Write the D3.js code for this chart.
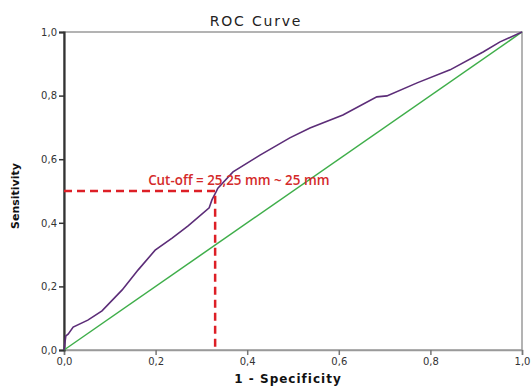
<!DOCTYPE html>
<html>
<head>
<meta charset="utf-8">
<script src="https://cdn.jsdelivr.net/npm/d3@7"></script>
<style>
  body { margin: 0; background: #fff; }
  text { font-family: "DejaVu Sans", Arial, sans-serif; }
</style>
</head>
<body>
<div id="chart"></div>
<script>
// ROC curve, 1 - specificity vs sensitivity
const fpr = [0, 0.004, 0.009, 0.02, 0.052, 0.083, 0.127, 0.162, 0.199, 0.236, 0.271, 0.317, 0.323, 0.332,
  0.336, 0.369, 0.428, 0.493, 0.537, 0.609, 0.683, 0.705, 0.771, 0.843, 0.915, 0.952, 1];
const tpr = [0, 0.044, 0.05, 0.072, 0.094, 0.123, 0.189, 0.252, 0.314, 0.352, 0.39, 0.447, 0.472, 0.497,
  0.509, 0.56, 0.613, 0.667, 0.698, 0.739, 0.796, 0.799, 0.84, 0.881, 0.937, 0.969, 1];
const refLine = [0, 1];
const tickValues = [0, 0.2, 0.4, 0.6, 0.8, 1.0];
const cutoff = { x: 0.33, y: 0.5, label: "Cut-off = 25,25 mm ~ 25 mm" };

const width = 531, height = 387;
const margin = { top: 32, right: 9, bottom: 37, left: 64 };
const w = width - margin.left - margin.right;
const h = height - margin.top - margin.bottom;

const svg = d3.select('#chart').append('svg')
  .attr('width', width)
  .attr('height', height);

const chart = svg.append('g')
  .attr('transform', `translate(${margin.left},${margin.top})`);

const xScale = d3.scaleLinear().domain([0, 1]).range([0, w]);
const yScale = d3.scaleLinear().domain([0, 1]).range([h, 0]);
const fmt = d => d3.format('.1f')(d).replace('.', ',');

// frame
chart.append('rect')
  .attr('width', w).attr('height', h)
  .attr('fill', 'none')
  .attr('stroke', '#9a9a9a')
  .attr('stroke-width', 1.5);

// axes
const xAxis = chart.append('g')
  .attr('transform', `translate(0,${h})`)
  .call(d3.axisBottom(xScale).tickValues(tickValues).tickFormat(fmt).tickSize(5).tickPadding(3));
xAxis.select('.domain').attr('stroke', '#9a9a9a').attr('stroke-width', 1.5);
xAxis.selectAll('.tick line').attr('stroke', '#777').attr('stroke-width', 1.5);

const yAxis = chart.append('g')
  .call(d3.axisLeft(yScale).tickValues(tickValues).tickFormat(fmt).tickSize(5).tickPadding(2));
yAxis.select('.domain').attr('stroke', '#333').attr('stroke-width', 2.2);
yAxis.selectAll('.tick line').attr('stroke', '#333').attr('stroke-width', 1.5);

svg.selectAll('.tick text')
  .attr('fill', '#333')
  .style('font-size', '10px')
  .style('font-family', '"DejaVu Sans", sans-serif');

// reference diagonal
chart.append('line')
  .attr('x1', xScale(refLine[0])).attr('y1', yScale(refLine[0]))
  .attr('x2', xScale(refLine[1])).attr('y2', yScale(refLine[1]))
  .attr('stroke', '#3fae4a')
  .attr('stroke-width', 1.5);

// ROC curve
const line = d3.line()
  .x((d, i) => xScale(fpr[i]))
  .y((d, i) => yScale(tpr[i]));

chart.append('path')
  .datum(fpr)
  .attr('d', line)
  .attr('fill', 'none')
  .attr('stroke', '#5c2d78')
  .attr('stroke-width', 1.6);

// cut-off dashed lines
chart.append('path')
  .attr('d', `M${xScale(0)},${yScale(cutoff.y)}H${xScale(cutoff.x)}V${yScale(0)}`)
  .attr('fill', 'none')
  .attr('stroke', '#dd1f26')
  .attr('stroke-width', 2.5)
  .attr('stroke-dasharray', '8,5');

chart.append('text')
  .attr('x', xScale(cutoff.x) - 67)
  .attr('y', yScale(cutoff.y) - 6)
  .attr('fill', '#d42a2a')
  .style('font-family', '"Open Sans", sans-serif')
  .style('font-size', '13.4px')
  .style('font-weight', 600)
  .text(cutoff.label);

// titles
svg.append('text')
  .attr('x', 256).attr('y', 26)
  .attr('text-anchor', 'middle')
  .attr('fill', '#222')
  .style('font-size', '14px')
  .style('letter-spacing', '1.8px')
  .text('ROC Curve');

svg.append('text')
  .attr('x', 288).attr('y', 383)
  .attr('text-anchor', 'middle')
  .attr('fill', '#111')
  .style('font-size', '12px')
  .style('font-weight', 'bold')
  .style('letter-spacing', '1px')
  .text('1 - Specificity');

svg.append('text')
  .attr('transform', 'translate(19,196) rotate(-90)')
  .attr('text-anchor', 'middle')
  .attr('fill', '#111')
  .style('font-size', '11px')
  .style('font-weight', 'bold')
  .text('Sensitivity');
</script>
</body>
</html>
